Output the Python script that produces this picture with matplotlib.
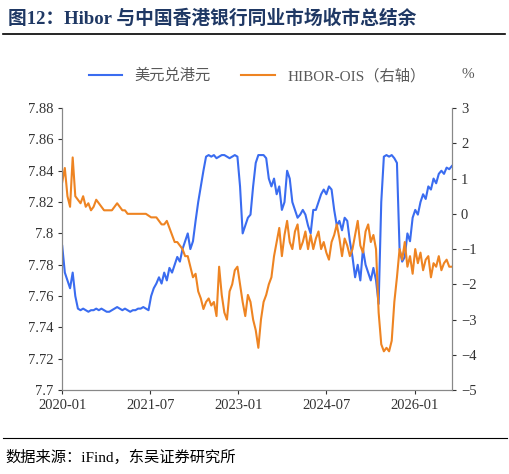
import matplotlib
matplotlib.use("Agg")
import matplotlib.pyplot as plt
import pandas as pd

dates = pd.date_range("2020-01-01", "2026-08-20", periods=150)
usdhkd = [7.792,7.775,7.770,7.765,7.775,7.760,7.752,7.751,7.752,7.751,7.750,7.751,7.751,7.752,7.751,7.752,7.751,7.750,7.750,7.751,7.752,7.753,7.752,7.751,
7.752,7.751,7.750,7.751,7.751,7.752,7.752,7.753,7.752,7.751,7.760,7.765,7.768,7.772,7.768,7.775,7.770,7.778,7.775,7.780,7.785,7.782,7.790,7.795,
7.800,7.790,7.795,7.808,7.820,7.830,7.840,7.849,7.850,7.849,7.850,7.848,7.849,7.850,7.850,7.849,7.848,7.849,7.850,7.849,7.830,7.800,7.805,7.810,
7.812,7.830,7.845,7.850,7.850,7.850,7.848,7.835,7.830,7.835,7.825,7.830,7.815,7.820,7.840,7.835,7.820,7.815,7.810,7.812,7.815,7.812,7.805,7.800,
7.815,7.815,7.820,7.825,7.828,7.825,7.830,7.828,7.815,7.805,7.808,7.802,7.810,7.808,7.795,7.785,7.772,7.780,7.770,7.790,7.780,7.775,7.770,7.778,
7.770,7.755,7.820,7.849,7.850,7.849,7.850,7.848,7.845,7.790,7.782,7.785,7.800,7.795,7.810,7.815,7.812,7.820,7.825,7.822,7.830,7.828,7.835,7.832,
7.838,7.840,7.838,7.842,7.841,7.843]
hibor_ois = [0.9,1.3,0.5,0.2,1.6,0.5,0.4,0.3,0.5,0.2,0.3,0.1,0.2,0.4,0.3,0.2,0.1,0.1,0.1,0.1,0.2,0.3,0.2,0.1,
0.1,0.0,0.0,0.0,0.0,0.0,0.0,0.0,0.0,-0.05,-0.1,-0.1,-0.1,-0.2,-0.3,-0.3,-0.2,-0.4,-0.6,-0.8,-0.8,-0.9,-1.0,-1.2,
-1.2,-1.5,-1.8,-1.7,-2.2,-2.4,-2.7,-2.5,-2.4,-2.6,-2.5,-2.9,-1.5,-2.3,-2.8,-3.0,-2.2,-2.0,-1.6,-1.5,-2.0,-2.5,-2.9,-2.3,
-2.5,-3.0,-3.3,-3.8,-3.0,-2.5,-2.3,-2.0,-1.8,-1.2,-0.8,-0.4,-1.2,-0.6,-0.2,-0.8,-1.0,-0.5,-0.3,-1.0,-0.8,-0.5,-1.0,-0.6,
-1.0,-0.7,-0.5,-1.0,-0.8,-1.1,-1.3,-0.8,-0.6,-0.3,-0.7,-1.2,-0.7,-0.9,-1.2,-1.0,-0.6,-0.2,-0.9,-1.1,-0.5,-0.3,-0.8,-0.6,
-1.0,-2.8,-3.7,-3.9,-3.8,-3.9,-3.6,-2.5,-1.8,-1.0,-1.3,-0.8,-1.5,-1.2,-1.7,-1.0,-1.4,-1.1,-1.6,-1.3,-1.2,-1.8,-1.4,-1.5,
-1.2,-1.6,-1.4,-1.3,-1.5,-1.5]
xtick_labels = ["2020-01", "2021-07", "2023-01", "2024-07", "2026-01"]

plt.rcParams['font.family'] = ['Liberation Serif', 'Noto Sans CJK SC']
fig = plt.figure(figsize=(5.1, 4.74), dpi=100)
ax = fig.add_axes([0.122, 0.177, 0.764, 0.595])
ax2 = ax.twinx()
blue, orange = "#3A6CF0", "#EE8422"
l1, = ax.plot(dates, usdhkd, color=blue, lw=1.5, label="美元兑港元")
l2, = ax2.plot(dates, hibor_ois, color=orange, lw=1.5, label="HIBOR-OIS（右轴）")
ax.set_ylim(7.70, 7.88)
ax.set_yticks([7.70,7.72,7.74,7.76,7.78,7.80,7.82,7.84,7.86,7.88])
ax.set_yticklabels(["7.7","7.72","7.74","7.76","7.78","7.8","7.82","7.84","7.86","7.88"])
ax2.set_ylim(-5, 3)
ax2.set_yticks(range(-5, 4))
xt = pd.to_datetime(xtick_labels)
ax.set_xticks(xt)
ax.set_xticklabels(xtick_labels)
ax.set_xlim(dates[0], dates[-1])
for a in (ax, ax2):
    a.tick_params(labelsize=10.5, length=3, direction="out", colors="#333333")
    a.spines["top"].set_visible(False)
    for s in a.spines.values():
        s.set_color("#888888")
leg = ax.legend([l1, l2], [l1.get_label(), l2.get_label()], loc="lower center",
          bbox_to_anchor=(0.5, 1.04), ncol=2, frameon=False, fontsize=11, handlelength=2.2, columnspacing=2)
for t in leg.get_texts():
    t.set_color("#595959")
fig.text(0.905, 0.835, "%", fontsize=11, color="#595959")
fig.text(0.015, 0.95, "图12：Hibor 与中国香港银行同业市场收市总结余", fontsize=13.5,
         fontweight="bold", color="#1F3864")
fig.add_artist(plt.Line2D([0.005, 0.99], [0.928, 0.928], color="black", lw=1.2))
fig.add_artist(plt.Line2D([0.005, 0.995], [0.075, 0.075], color="black", lw=0.8))
fig.text(0.01, 0.025, "数据来源：iFind，东吴证券研究所", fontsize=11)
fig.savefig("out.png", dpi=100)
